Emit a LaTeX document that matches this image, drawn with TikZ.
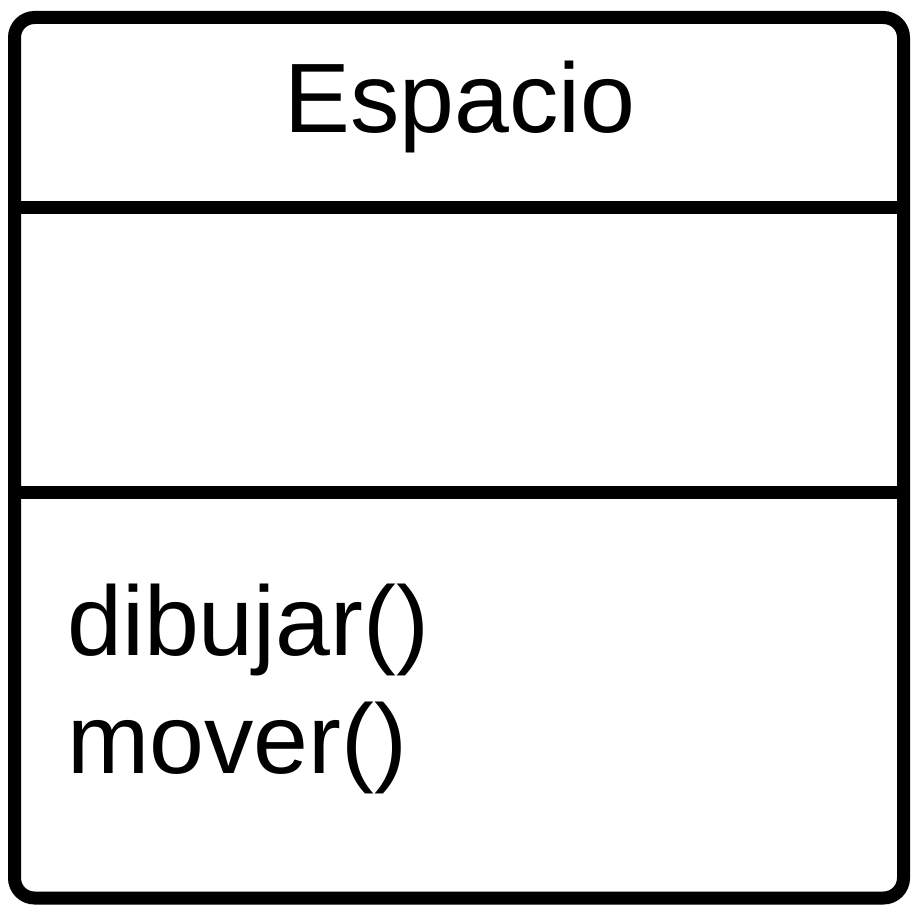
\documentclass[tikz,border=0pt]{standalone}
\usepackage{fontspec}
\setmainfont{Liberation Sans}
\usepackage{tikz}
\usetikzlibrary{positioning, calc}

\tikzset{
  umlline/.style={line width=9.75pt, draw=black},
  umltext/.style={inner sep=0pt, font=\fontsize{74}{88.5}\selectfont},
}

\begin{document}
\begin{tikzpicture}[x=0.75pt, y=-0.75pt]
  \useasboundingbox (0,0) rectangle (919,916);
  % class box
  \coordinate (tl) at (14.5,17.5);
  \coordinate (br) at (903.5,898);
  \draw[umlline, rounded corners=15pt] (tl) rectangle (br);
  % compartments
  \coordinate (sepA-w) at (14.5,207);
  \coordinate (sepA-e) at (903.5,207);
  \coordinate (sepB-w) at (14.5,492.5);
  \coordinate (sepB-e) at (903.5,492.5);
  \draw[umlline] (sepA-w) -- (sepA-e);
  \draw[umlline] (sepB-w) -- (sepB-e);
  % texts
  \node[umltext, anchor=base] (classname) at (460,133) {Espacio};
  \node[umltext, anchor=base west] (methA) at (67,655) {dibujar()};
  \node[umltext, anchor=base west] (methB) at (67,773) {mover()};
\end{tikzpicture}
\end{document}
